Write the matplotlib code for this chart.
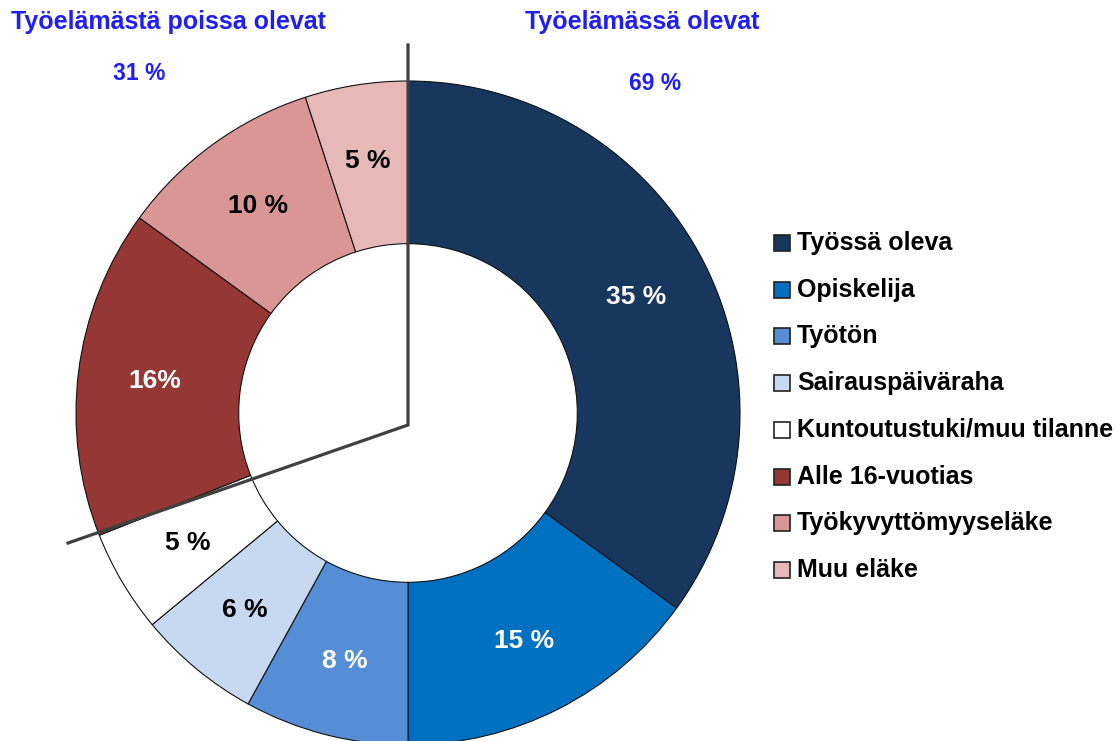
import matplotlib.pyplot as plt
from matplotlib.patches import Rectangle

# data
categories = ["Työssä oleva", "Opiskelija", "Työtön", "Sairauspäiväraha",
              "Kuntoutustuki/muu tilanne", "Alle 16-vuotias",
              "Työkyvyttömyyseläke", "Muu eläke"]
values = [35, 15, 8, 6, 5, 16, 10, 5]
value_labels = ["35 %", "15 %", "8 %", "6 %", "5 %", "16%", "10 %", "5 %"]
colors = ["#17375E", "#0070C0", "#558ED5", "#C6D9F1", "#FFFFFF",
          "#953735", "#D99694", "#E6B9B8"]
label_colors = ["white", "white", "white", "black", "black", "white", "black", "black"]
group_titles = ["Työelämästä poissa olevat", "Työelämässä olevat"]
group_shares = ["31 %", "69 %"]

plt.rcParams['font.family'] = ['Liberation Sans', 'DejaVu Sans']
plt.rcParams['font.weight'] = 'bold'

W, H = 1116, 741
fig = plt.figure(figsize=(W / 100, H / 100), dpi=100)

# pie axes: centre (408, 413) px, radius 332 px
cx, cy, R = 408, 413, 332
ax = fig.add_axes([(cx - R) / W, (H - cy - R) / H, 2 * R / W, 2 * R / H])
wedges, texts = ax.pie(values, colors=colors, startangle=90, counterclock=False,
                       radius=1.0, labels=value_labels, labeldistance=0.77,
                       wedgeprops=dict(width=0.49, edgecolor="#111111", linewidth=0.8),
                       textprops=dict(fontsize=19, fontweight='bold'))
for t, c in zip(texts, label_colors):
    t.set_color(c)
    t.set_ha('center')
    t.set_va('center')
ax.set_xlim(-1, 1)
ax.set_ylim(-1, 1)
ax.set_aspect('equal')
ax.axis('off')

# divider lines (pixel coords -> data units)
def px(x, y):
    return (x - cx) / R, (cy - y) / R

p_top = px(408, 45)
p_mid = px(408, 425)
p_end = px(68, 543)
ax.plot([p_top[0], p_mid[0], p_end[0]], [p_top[1], p_mid[1], p_end[1]],
        color="#404040", linewidth=2.3, clip_on=False, solid_joinstyle='miter')

# group titles
blue = "#1E1EF5"
fig.text(168 / W, 1 - 22 / H, group_titles[0], color=blue, fontsize=18,
         fontweight='bold', ha='center', va='center')
fig.text(642 / W, 1 - 22 / H, group_titles[1], color=blue, fontsize=18,
         fontweight='bold', ha='center', va='center')
fig.text(139 / W, 1 - 74 / H, group_shares[0], color=blue, fontsize=16.5,
         fontweight='bold', ha='center', va='center')
fig.text(655 / W, 1 - 84 / H, group_shares[1], color=blue, fontsize=16.5,
         fontweight='bold', ha='center', va='center')

# legend (manual)
for i, (lab, col) in enumerate(zip(categories, colors)):
    yc = 243 + i * 46.7
    fig.patches.append(Rectangle(((774) / W, 1 - (yc + 8) / H), 16 / W, 16 / H,
                                 facecolor=col, edgecolor="#222222", linewidth=1.2,
                                 transform=fig.transFigure, figure=fig))
    fig.text(797 / W, 1 - yc / H, lab, fontsize=18, fontweight='bold',
             color='black', ha='left', va='center')

fig.savefig("out.png", dpi=100, facecolor='white')
